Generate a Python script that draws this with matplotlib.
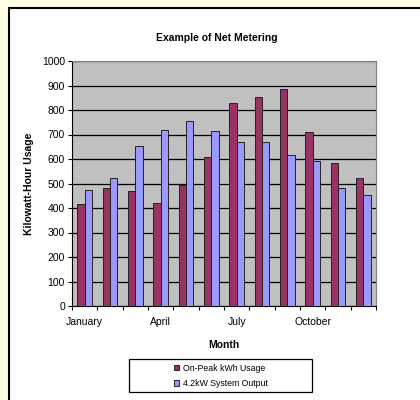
import matplotlib.pyplot as plt
from matplotlib.patches import Rectangle
import numpy as np

plt.rcParams['font.family'] = ['Liberation Sans', 'DejaVu Sans']

months = ["January", "February", "March", "April", "May", "June",
          "July", "August", "September", "October", "November", "December"]
on_peak = [415, 483, 468, 420, 494, 609, 830, 852, 884, 709, 585, 524]
solar = [472, 524, 654, 720, 754, 713, 671, 668, 616, 592, 483, 454]
shown_labels = ["January", "April", "July", "October"]

fig = plt.figure(figsize=(4.2, 4.0), dpi=100, facecolor='#FFFFE6')

# white chart area with black top/left border
fig.patches.append(Rectangle((9 / 420, -0.1), 1.0, 1 - 8 / 400 + 0.1,
                             transform=fig.transFigure, facecolor='white',
                             edgecolor='black', linewidth=1.5, zorder=-10))

ax = fig.add_axes([72 / 420, 1 - 306 / 400, 304 / 420, 245 / 400])
ax.set_facecolor('#C0C0C0')

x = np.arange(len(months))
w = 1 / 3.5
ax.bar(x - w / 2, on_peak, w, color='#993366', edgecolor='#222222',
       linewidth=0.7, label='On-Peak kWh Usage', zorder=3)
ax.bar(x + w / 2, solar, w, color='#9999FF', edgecolor='#222222',
       linewidth=0.7, label='4.2kW System Output', zorder=3)

ax.set_xlim(-0.5, len(months) - 0.5)
ax.set_ylim(0, 1000)
ax.set_yticks(range(0, 1001, 100))
ax.yaxis.grid(True, color='black', linewidth=0.9, zorder=1)
ax.set_axisbelow(True)

ax.set_xticks(np.arange(-0.5, len(months), 1))
ax.set_xticklabels([])
ax.set_xticks([months.index(m) for m in shown_labels], minor=True)
ax.set_xticklabels(shown_labels, minor=True)
ax.tick_params(axis='x', which='minor', length=0, pad=8, labelsize=7.5)
ax.tick_params(axis='x', which='major', length=3, direction='out', width=0.8)
ax.tick_params(axis='y', length=3, direction='out', width=0.8, labelsize=7.5, pad=2)

for s in ['top', 'right']:
    ax.spines[s].set_color('#808080')
for s in ['left', 'bottom']:
    ax.spines[s].set_color('black')

fig.text(217 / 420, 1 - 38 / 400, "Example of Net Metering", fontsize=7.5,
         fontweight='bold', ha='center', va='center')
ax.set_xlabel("Month", fontsize=7.5, fontweight='bold', labelpad=9)
ax.set_ylabel("Kilowatt-Hour Usage", fontsize=7.5, fontweight='bold', labelpad=6)

# legend box drawn separately (wider than its entries)
fig.patches.append(Rectangle((129 / 420, 1 - 392 / 400), 183 / 420, 33 / 400,
                             transform=fig.transFigure, facecolor='white',
                             edgecolor='black', linewidth=0.9, zorder=1))
leg = fig.legend(loc='center', bbox_to_anchor=(0.525, 0.061), fontsize=6.3,
                 frameon=False, handlelength=0.65, handleheight=0.65,
                 handletextpad=0.4, labelspacing=0.7, borderaxespad=0)
leg.set_zorder(2)

fig.savefig("out.png", dpi=100, facecolor=fig.get_facecolor())
